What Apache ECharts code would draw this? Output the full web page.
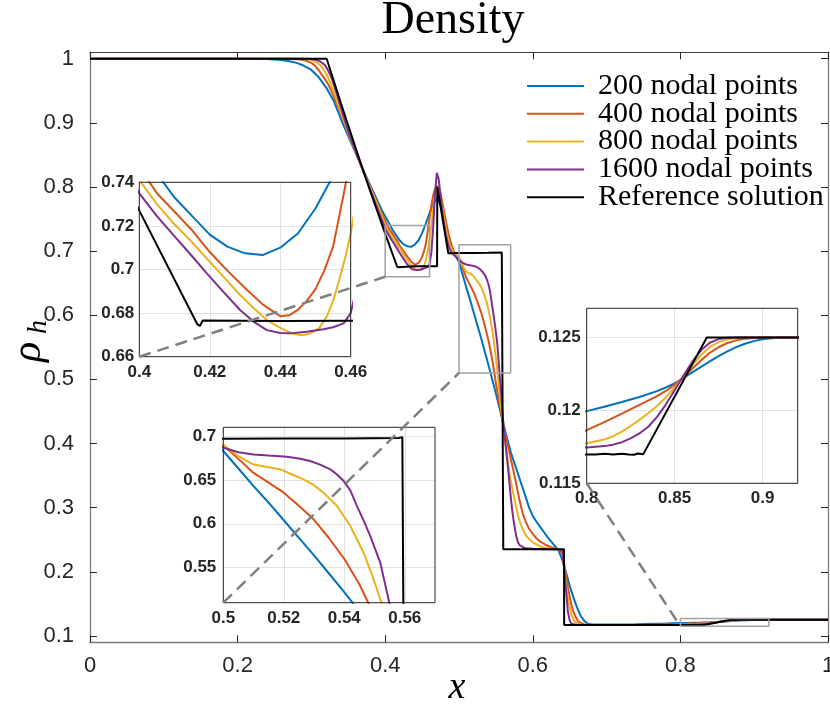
<!DOCTYPE html>
<html><head><meta charset="utf-8">
<script src="https://cdn.jsdelivr.net/npm/echarts@6.0.0/dist/echarts.min.js"></script>
<style>html,body{margin:0;padding:0;background:#fff}#c{width:830px;height:707px}</style>
</head><body><div id="c"></div>
<script>
// ---------- data ----------
const seriesNames = ['200 nodal points','400 nodal points','800 nodal points','1600 nodal points','Reference solution'];
const seriesColors = ['#0072BD','#D95319','#EDB120','#7E2F8E','#000000'];

const pts200 = [[0,1],[0.2,1],[0.24,0.9995],[0.26,0.998],[0.27,0.996],[0.28,0.9935],[0.29,0.989],[0.3,0.9825],[0.31,0.971],[0.32,0.955],[0.33,0.935],[0.34,0.906],[0.35,0.879],[0.36,0.853],[0.37,0.827],[0.38,0.802],[0.39,0.777],[0.395,0.765],[0.4,0.754],[0.405,0.744],[0.41,0.733],[0.415,0.7245],[0.42,0.716],[0.425,0.7105],[0.43,0.7074],[0.435,0.7066],[0.44,0.710],[0.445,0.7165],[0.45,0.728],[0.455,0.743],[0.46,0.759],[0.465,0.774],[0.47,0.781],[0.475,0.772],[0.48,0.752],[0.485,0.728],[0.49,0.707],[0.495,0.693],[0.5,0.683],[0.505,0.663],[0.51,0.643],[0.515,0.624],[0.52,0.604],[0.525,0.584],[0.53,0.564],[0.535,0.543],[0.54,0.522],[0.545,0.50],[0.55,0.478],[0.555,0.455],[0.56,0.431],[0.565,0.409],[0.57,0.387],[0.575,0.3697],[0.58,0.3525],[0.585,0.335],[0.59,0.318],[0.595,0.30],[0.6,0.287],[0.605,0.278],[0.61,0.270],[0.615,0.262],[0.62,0.254],[0.625,0.247],[0.63,0.240],[0.635,0.233],[0.64,0.218],[0.645,0.199],[0.65,0.178],[0.655,0.160],[0.66,0.144],[0.665,0.131],[0.67,0.123],[0.675,0.119],[0.68,0.1178],[0.7,0.1176],[0.72,0.1179],[0.74,0.1183],[0.76,0.1188],[0.78,0.1193],[0.8,0.11995],[0.81,0.12025],[0.82,0.12057],[0.83,0.12092],[0.84,0.12132],[0.845,0.12157],[0.85,0.12185],[0.855,0.12222],[0.86,0.1226],[0.865,0.12298],[0.87,0.12336],[0.875,0.12372],[0.88,0.12405],[0.885,0.12434],[0.89,0.12457],[0.895,0.12475],[0.9,0.12488],[0.905,0.12495],[0.91,0.12499],[0.92,0.125],[1,0.125]];

const pts400 = [[0,1],[0.25,1],[0.27,0.9995],[0.28,0.999],[0.29,0.998],[0.3,0.9935],[0.305,0.989],[0.31,0.982],[0.315,0.9735],[0.32,0.9655],[0.325,0.955],[0.33,0.942],[0.335,0.928],[0.34,0.914],[0.35,0.885],[0.36,0.855],[0.37,0.826],[0.38,0.799],[0.39,0.772],[0.4,0.747],[0.4025,0.741],[0.405,0.735],[0.41,0.7265],[0.415,0.718],[0.42,0.708],[0.425,0.6995],[0.43,0.6915],[0.435,0.684],[0.44,0.6786],[0.4425,0.679],[0.445,0.6815],[0.4475,0.6855],[0.45,0.691],[0.4525,0.6995],[0.455,0.7105],[0.4575,0.7305],[0.46,0.751],[0.4625,0.771],[0.465,0.787],[0.4675,0.797],[0.47,0.802],[0.4725,0.800],[0.475,0.79],[0.4775,0.775],[0.48,0.760],[0.4825,0.745],[0.485,0.731],[0.4875,0.719],[0.49,0.709],[0.4925,0.701],[0.495,0.695],[0.4975,0.692],[0.5,0.6894],[0.505,0.674],[0.51,0.658],[0.515,0.647],[0.52,0.6355],[0.525,0.6205],[0.53,0.6045],[0.535,0.5835],[0.54,0.560],[0.545,0.531],[0.5479,0.51],[0.55,0.494],[0.555,0.461],[0.56,0.429],[0.5625,0.416],[0.565,0.403],[0.5675,0.39],[0.57,0.377],[0.5725,0.364],[0.575,0.351],[0.5775,0.337],[0.58,0.323],[0.5825,0.309],[0.585,0.297],[0.5875,0.287],[0.59,0.279],[0.595,0.267],[0.6,0.259],[0.605,0.252],[0.61,0.247],[0.62,0.2405],[0.63,0.2365],[0.635,0.2345],[0.64,0.228],[0.6425,0.212],[0.645,0.194],[0.6475,0.176],[0.65,0.161],[0.6525,0.148],[0.655,0.138],[0.6575,0.131],[0.66,0.1255],[0.6625,0.1215],[0.665,0.1195],[0.67,0.1178],[0.68,0.1172],[0.7,0.1171],[0.74,0.1172],[0.77,0.1176],[0.79,0.1181],[0.8,0.11864],[0.81,0.1192],[0.82,0.11978],[0.83,0.12038],[0.84,0.12098],[0.845,0.12133],[0.85,0.12175],[0.855,0.12228],[0.86,0.12285],[0.865,0.12342],[0.87,0.12395],[0.875,0.12433],[0.88,0.12462],[0.885,0.1248],[0.89,0.12492],[0.9,0.12499],[0.91,0.125],[0.92,0.125],[1,0.125]];

const pts800 = [[0,1],[0.28,1],[0.295,0.999],[0.3026,0.997],[0.31,0.992],[0.314,0.9876],[0.32,0.977],[0.3252,0.9641],[0.33,0.950],[0.3388,0.920],[0.3523,0.876],[0.366,0.837],[0.38,0.798],[0.39,0.771],[0.4,0.741],[0.405,0.730],[0.4097,0.7212],[0.415,0.7125],[0.4191,0.7051],[0.424,0.6965],[0.4286,0.6883],[0.4325,0.6822],[0.4362,0.6768],[0.44,0.6732],[0.4437,0.6705],[0.4462,0.6698],[0.4485,0.6707],[0.451,0.673],[0.4532,0.6784],[0.4552,0.6865],[0.457,0.6967],[0.4587,0.707],[0.46,0.7166],[0.4625,0.740],[0.465,0.766],[0.4675,0.787],[0.47,0.797],[0.4725,0.795],[0.475,0.784],[0.4775,0.767],[0.48,0.749],[0.4825,0.733],[0.485,0.72],[0.4875,0.710],[0.49,0.703],[0.4925,0.698],[0.495,0.694],[0.4975,0.6915],[0.5,0.690],[0.505,0.677],[0.51,0.6675],[0.515,0.6645],[0.519,0.662],[0.5225,0.6565],[0.5265,0.6506],[0.53,0.644],[0.5331,0.6355],[0.5376,0.6202],[0.542,0.5974],[0.5464,0.567],[0.5497,0.5366],[0.5523,0.51],[0.555,0.478],[0.5575,0.452],[0.56,0.429],[0.5625,0.405],[0.565,0.381],[0.5675,0.36],[0.57,0.343],[0.5725,0.328],[0.575,0.313],[0.5775,0.300],[0.58,0.288],[0.5825,0.278],[0.585,0.270],[0.59,0.258],[0.595,0.251],[0.6,0.246],[0.61,0.2395],[0.62,0.2365],[0.63,0.2355],[0.6375,0.234],[0.64,0.229],[0.6425,0.206],[0.645,0.180],[0.6475,0.16],[0.65,0.145],[0.6525,0.133],[0.655,0.126],[0.6575,0.1215],[0.66,0.119],[0.665,0.1175],[0.7,0.1170],[0.78,0.1173],[0.79,0.1175],[0.8,0.11775],[0.81,0.118],[0.815,0.11822],[0.82,0.11855],[0.825,0.11893],[0.83,0.11935],[0.835,0.1198],[0.84,0.1203],[0.845,0.1209],[0.85,0.12155],[0.855,0.12235],[0.86,0.1231],[0.865,0.12378],[0.87,0.12435],[0.875,0.12468],[0.88,0.12487],[0.885,0.12496],[0.89,0.12499],[0.9,0.125],[0.92,0.125],[1,0.125]];

const pts1600 = [[0,1],[0.29,1],[0.3,0.9995],[0.3072,0.998],[0.313,0.995],[0.3184,0.990],[0.323,0.981],[0.3275,0.9695],[0.333,0.950],[0.3388,0.928],[0.3523,0.878],[0.366,0.837],[0.38,0.795],[0.39,0.765],[0.4,0.7349],[0.405,0.7245],[0.4097,0.7158],[0.4145,0.707],[0.4191,0.6983],[0.424,0.6895],[0.4286,0.6814],[0.4325,0.676],[0.4362,0.6722],[0.44,0.6709],[0.4428,0.6707],[0.4475,0.6714],[0.4523,0.6726],[0.455,0.6735],[0.458,0.6753],[0.46,0.680],[0.4625,0.697],[0.465,0.737],[0.4675,0.79],[0.47,0.822],[0.4725,0.812],[0.475,0.787],[0.4775,0.760],[0.48,0.74],[0.4825,0.724],[0.485,0.712],[0.4875,0.703],[0.49,0.697],[0.4925,0.694],[0.495,0.692],[0.4975,0.690],[0.5,0.6867],[0.505,0.6815],[0.51,0.6791],[0.515,0.6778],[0.521,0.6765],[0.525,0.6745],[0.5287,0.6715],[0.532,0.6675],[0.5354,0.662],[0.5375,0.6565],[0.5398,0.6487],[0.542,0.638],[0.5442,0.6202],[0.5465,0.603],[0.5486,0.586],[0.5519,0.5556],[0.5549,0.51],[0.5575,0.472],[0.56,0.433],[0.5625,0.405],[0.565,0.378],[0.5675,0.349],[0.57,0.318],[0.5725,0.292],[0.575,0.272],[0.5775,0.256],[0.58,0.2455],[0.5825,0.241],[0.585,0.2385],[0.59,0.2365],[0.6,0.2358],[0.62,0.2352],[0.635,0.2348],[0.64,0.232],[0.6425,0.205],[0.645,0.172],[0.6475,0.138],[0.65,0.124],[0.6525,0.119],[0.655,0.1175],[0.66,0.117],[0.7,0.117],[0.78,0.1172],[0.8,0.11746],[0.81,0.11755],[0.815,0.11765],[0.82,0.11782],[0.825,0.11808],[0.83,0.11842],[0.835,0.11888],[0.84,0.11955],[0.845,0.1204],[0.85,0.12138],[0.855,0.12238],[0.86,0.12333],[0.865,0.12412],[0.87,0.12464],[0.875,0.12489],[0.88,0.12498],[0.885,0.125],[0.92,0.125],[1,0.125]];

const ptsRef = [[0,1],[0.3207,1],[0.34,0.9305],[0.36,0.8605],[0.38,0.7925],[0.4,0.727],[0.4165,0.6748],[0.4172,0.6741],[0.418,0.6766],[0.44,0.6764],[0.46,0.6765],[0.4703,0.6765],[0.4706,0.80],[0.4855,0.6966],[0.5,0.697],[0.52,0.6972],[0.54,0.6973],[0.558,0.6978],[0.5592,0.6988],[0.5598,0.698],[0.56,0.235],[0.6423,0.235],[0.6425,0.117],[0.805,0.11698],[0.81,0.11702],[0.815,0.11697],[0.82,0.11703],[0.824,0.11698],[0.827,0.11696],[0.829,0.11704],[0.8322,0.117],[0.8683,0.125],[1,0.125]];

const allSeries = [pts200, pts400, pts800, pts1600, ptsRef];

// axis ranges and ticks
const mainX = [0, 1];
const mainY = [0.09, 1.01];
const mainYTicks = [0.1,0.2,0.3,0.4,0.5,0.6,0.7,0.8,0.9,1];
const inset1X = [0.4, 0.46], inset1Y = [0.66, 0.74];
const inset2X = [0.5, 0.57], inset2Y = [0.51, 0.71];
const inset2XTicks = [0.5,0.52,0.54,0.56], inset2YTicks = [0.55,0.6,0.65,0.7];
const inset3X = [0.8, 0.92], inset3Y = [0.115, 0.127];
const inset3XTicks = [0.8,0.85,0.9], inset3YTicks = [0.115,0.12,0.125];

// ---------- layout ----------
const mainBox = {left: 90, top: 52.3, width: 738, height: 590};
const insetBoxes = [
  {left: 139.3, top: 182.3, width: 211.4, height: 174.4},
  {left: 223.3, top: 427.3, width: 211.7, height: 175.4},
  {left: 586.7, top: 308.3, width: 211, height: 175}
];
const insetRanges = [[inset1X, inset1Y],[inset2X, inset2Y],[inset3X, inset3Y]];

const chart = echarts.init(document.getElementById('c'), null, {renderer: 'canvas'});

const SANS = '"Liberation Sans", Arial, Helvetica, sans-serif';
const SERIF = '"Liberation Serif", "Times New Roman", serif';

const grids = [Object.assign({outerBoundsMode: 'none', containLabel: false, show: false}, mainBox)];
insetBoxes.forEach(b => grids.push(Object.assign({outerBoundsMode: 'none', containLabel: false, show: true, backgroundColor: '#ffffff', borderWidth: 0, z: 10}, b)));

const mainTick = {show: true, inside: true, length: 7, lineStyle: {color: '#262626', width: 1}};
const mainLine = {show: true, onZero: false, lineStyle: {color: '#7a7a7a', width: 1.3}};
const mainLabel = {fontFamily: SANS, fontSize: 22, color: '#262626', showMinLabel: true, showMaxLabel: true};

const xAxes = [
  {gridIndex: 0, type: 'value', min: mainX[0], max: mainX[1], interval: 0.2, position: 'bottom',
   axisLine: mainLine, axisTick: mainTick, splitLine: {show: false},
   axisLabel: Object.assign({margin: 13}, mainLabel)},
  {gridIndex: 0, type: 'value', min: mainX[0], max: mainX[1], interval: 0.2, position: 'top',
   axisLine: {show: true, onZero: false, lineStyle: {color: '#404040', width: 1.1}}, axisTick: mainTick, splitLine: {show: false}, axisLabel: {show: false}}
];
const yAxes = [
  {gridIndex: 0, type: 'value', min: mainY[0], max: mainY[1], position: 'left',
   axisLine: mainLine, axisTick: Object.assign({customValues: mainYTicks}, mainTick), splitLine: {show: false},
   axisLabel: Object.assign({margin: 16, customValues: mainYTicks}, mainLabel)},
  {gridIndex: 0, type: 'value', min: mainY[0], max: mainY[1], position: 'right',
   axisLine: mainLine, axisTick: Object.assign({customValues: mainYTicks}, mainTick), splitLine: {show: false},
   axisLabel: {show: false}}
];

const insetLabel = {fontFamily: SANS, fontSize: 17, fontWeight: 'bold', color: '#262626', showMinLabel: true, showMaxLabel: true};
const insetSplit = {show: true, lineStyle: {color: '#e2e2e2', width: 1}};
function insetAxis(gi, range, interval, custom, margin) {
  const ax = {gridIndex: gi, type: 'value', min: range[0], max: range[1], z: 11,
    axisLine: {show: false}, axisTick: {show: false}, splitLine: insetSplit,
    axisLabel: Object.assign({margin: margin}, insetLabel)};
  if (custom) { ax.axisLabel.customValues = custom; ax.axisTick.customValues = custom; } else { ax.interval = interval; }
  return ax;
}
xAxes.push(insetAxis(1, inset1X, 0.02, null, 7));
xAxes.push(insetAxis(2, inset2X, 0.02, inset2XTicks, 7));
xAxes.push(insetAxis(3, inset3X, 0.05, inset3XTicks, 7));
yAxes.push(insetAxis(1, inset1Y, 0.02, null, 5));
yAxes.push(insetAxis(2, inset2Y, 0.05, inset2YTicks, 7));
yAxes.push(insetAxis(3, inset3Y, 0.005, inset3YTicks, 6));

const series = [];
function addSeries(axisIdx, zBase) {
  allSeries.forEach((pts, i) => {
    series.push({
      type: 'line', name: seriesNames[i], data: pts, xAxisIndex: axisIdx, yAxisIndex: axisIdx,
      symbol: 'none', showSymbol: false, smooth: false, clip: true, silent: true,
      lineStyle: {color: seriesColors[i], width: 2}, itemStyle: {color: seriesColors[i]},
      z: zBase, emphasis: {disabled: true}
    });
  });
}
addSeries(0, 2);
// zoom rectangles in main axes, derived from inset ranges
insetRanges.forEach(([xr, yr]) => {
  series.push({
    type: 'line', name: '_box', data: [[xr[0], yr[0]], [xr[1], yr[0]], [xr[1], yr[1]], [xr[0], yr[1]], [xr[0], yr[0]]],
    xAxisIndex: 0, yAxisIndex: 0, symbol: 'none', silent: true, clip: false,
    lineStyle: {color: '#a3a3a3', width: 1.5}, z: 3, emphasis: {disabled: true}
  });
});
// inset i uses grid i and axis index i+1 (axes 0,1 belong to the main grid)
addSeries(2, 12);
addSeries(3, 12);
addSeries(4, 12);

const option = {
  animation: false,
  backgroundColor: '#ffffff',
  grid: grids,
  xAxis: xAxes,
  yAxis: yAxes,
  legend: {
    show: true, orient: 'vertical', left: 527, top: 71, padding: 0,
    itemWidth: 57, itemHeight: 2, itemGap: -2.2, icon: 'rect', selectedMode: false,
    data: seriesNames,
    textStyle: {fontFamily: SERIF, fontSize: 30, color: '#000', padding: [0, 0, 0, 9]},
    z: 20
  },
  series: series
};
chart.setOption(option);

// ---------- annotations ----------
const graphics = [];
insetBoxes.forEach(b => {
  graphics.push({type: 'rect', shape: {x: b.left, y: b.top, width: b.width, height: b.height},
    style: {fill: 'none', stroke: '#262626', lineWidth: 1}, z: 50, silent: true});
});
insetRanges.forEach(([xr, yr], i) => {
  const a = chart.convertToPixel({gridIndex: i + 1}, [xr[0], yr[0]]);
  const b = chart.convertToPixel({gridIndex: 0}, [xr[0], yr[0]]);
  graphics.push({type: 'line', shape: {x1: a[0], y1: a[1], x2: b[0], y2: b[1]},
    style: {stroke: '#808080', lineWidth: 2.5, lineDash: [12, 7]}, z: 60, silent: true});
});
graphics.push({type: 'text', x: 453, y: 21, z: 70,
  style: {text: 'Density', font: '46px ' + SERIF, fill: '#000', align: 'center', verticalAlign: 'middle'}});
graphics.push({type: 'text', x: 457, y: 688, z: 70,
  style: {text: 'x', font: 'italic 38px ' + SERIF, fill: '#000', align: 'center', verticalAlign: 'middle'}});
graphics.push({type: 'text', x: 29, y: 352, z: 70, rotation: Math.PI / 2,
  style: {text: 'ρ', font: 'italic 42px ' + SERIF, fill: '#000', align: 'center', verticalAlign: 'middle'}});
graphics.push({type: 'text', x: 39, y: 327, z: 70, rotation: Math.PI / 2,
  style: {text: 'h', font: 'italic 28px ' + SERIF, fill: '#000', align: 'center', verticalAlign: 'middle'}});
chart.setOption({graphic: graphics});
</script>
</body></html>
